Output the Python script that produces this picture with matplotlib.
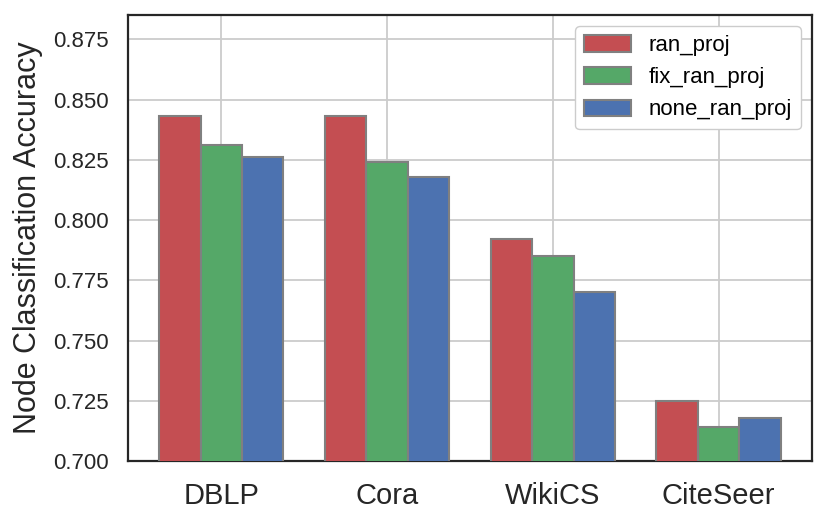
import matplotlib
matplotlib.use("Agg")
import matplotlib.pyplot as plt
import numpy as np

datasets = ["DBLP", "Cora", "WikiCS", "CiteSeer"]
ran_proj = [0.843, 0.843, 0.792, 0.725]
fix_ran_proj = [0.831, 0.824, 0.785, 0.714]
none_ran_proj = [0.826, 0.818, 0.770, 0.718]
yticks = [0.700, 0.725, 0.750, 0.775, 0.800, 0.825, 0.850, 0.875]

plt.rcParams["font.family"] = ["Liberation Sans", "DejaVu Sans"]

fig = plt.figure(figsize=(8.31, 5.24), dpi=100)
ax = fig.add_axes([0.154, 0.120, 0.823, 0.851])

x = np.arange(len(datasets))
w = 0.25
series = [("ran_proj", ran_proj, "#C44E52"),
          ("fix_ran_proj", fix_ran_proj, "#55A868"),
          ("none_ran_proj", none_ran_proj, "#4C72B0")]
for i, (name, vals, col) in enumerate(series):
    ax.bar(x + (i - 1) * w, vals, w, color=col, edgecolor="gray",
           linewidth=1.5, label=name, zorder=3)

ax.set_ylim(0.7, 0.885)
ax.set_yticks(yticks)
ax.set_yticklabels(["%.3f" % t for t in yticks], fontsize=16, color="#262626")
ax.set_xticks(x)
ax.set_xticklabels(datasets, fontsize=21, color="#262626")
ax.set_ylabel("Node Classification Accuracy", fontsize=22, color="#262626",
              labelpad=7)
ax.tick_params(axis="y", length=0, pad=14)
ax.tick_params(axis="x", length=0, pad=15)

ax.grid(True, color="#cccccc", linewidth=1.3, zorder=0)
ax.set_axisbelow(True)
for s in ax.spines.values():
    s.set_color("#262626")
    s.set_linewidth(1.6)

ax.legend(loc="upper right", fontsize=16, handlelength=2.1, handleheight=0.75,
          edgecolor="#cccccc", framealpha=1, borderaxespad=0.5)

fig.savefig("out.png", dpi=100)
